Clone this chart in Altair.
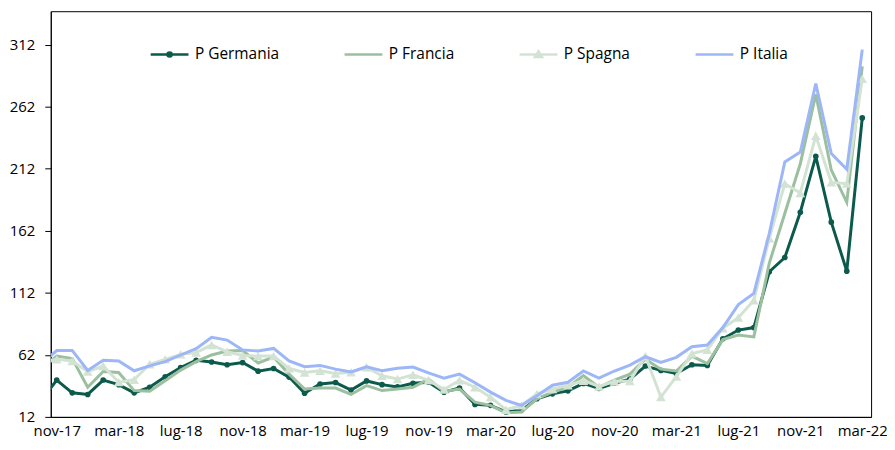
import json
import altair as alt
import pandas as pd

# ---- data -------------------------------------------------------------
months = [
    "ott-17", "nov-17", "dic-17",
    "gen-18", "feb-18", "mar-18", "apr-18", "mag-18", "giu-18", "lug-18", "ago-18", "set-18", "ott-18", "nov-18", "dic-18",
    "gen-19", "feb-19", "mar-19", "apr-19", "mag-19", "giu-19", "lug-19", "ago-19", "set-19", "ott-19", "nov-19", "dic-19",
    "gen-20", "feb-20", "mar-20", "apr-20", "mag-20", "giu-20", "lug-20", "ago-20", "set-20", "ott-20", "nov-20", "dic-20",
    "gen-21", "feb-21", "mar-21", "apr-21", "mag-21", "giu-21", "lug-21", "ago-21", "set-21", "ott-21", "nov-21", "dic-21",
    "gen-22", "feb-22", "mar-22",
]

germania = [25, 41.7, 31.4, 30.1, 41.7, 38.0, 31.4, 35.9, 44.4, 51.8, 57.6, 56.3, 54.0, 55.8, 48.9,
            51.0, 44.1, 31.1, 38.5, 39.7, 33.7, 41.0, 38.0, 36.2, 39.1, 39.9, 31.9,
            35.3, 22.1, 21.3, 16.0, 17.3, 26.6, 30.6, 33.0, 39.0, 35.0, 39.1, 42.5,
            53.0, 49.5, 47.0, 54.0, 53.5, 75.0, 82.0, 84.0, 129, 140.5, 177, 222,
            169, 129.5, 253]

francia = [50.5, 61, 59, 35.9, 48.6, 47.8, 33.2, 32.7, 41.2, 49.7, 56.6, 61.9, 65.1, 65.5, 55.5,
           60.3, 46.5, 34.5, 35.3, 35.3, 30.1, 37.2, 33.2, 34.5, 35.9, 42.5, 32.5,
           34.4, 23.9, 21.3, 15.2, 16.0, 26.6, 31.9, 35.9, 45.2, 35.9, 41.7, 46.5,
           58.5, 50.5, 49.0, 61.0, 55.0, 74.3, 78.0, 76.5, 136, 176, 216, 272,
           211, 185, 294.5]

spagna = [56, 58.4, 57.1, 48.5, 53, 40, 42, 54.4, 58.4, 62.4, 63.8, 70, 64.5, 61.5, 61,
          61, 51, 47.8, 49.2, 47.0, 48, 52, 45.2, 42.5, 46.0, 41.5, 34,
          41.5, 35.9, 27.9, 17.8, 21.3, 30.6, 34.4, 37.5, 41.2, 36.5, 40.5, 41,
          61, 28, 44.5, 63, 66, 83.5, 92, 106, 156, 200, 192.5, 238.5,
          201, 200, 284.5]

italia = [54.4, 65.5, 65.6, 49.5, 57.6, 57.0, 49.2, 53.1, 56.6, 61.9, 67, 76.2, 73.9, 66.0, 65.1,
          67.2, 57.1, 52.5, 53.5, 50.5, 48.3, 52.4, 49.2, 51.2, 52.2, 47.5, 43.3,
          46.5, 39.5, 32, 25.3, 21.3, 29, 37.5, 39.9, 49, 43.3, 49, 53.8,
          60.5, 56, 60, 68.5, 69.9, 84, 102.5, 111.5, 160, 217.5, 225.5, 280.6,
          224.3, 211.6, 308]

series_names = ["P Germania", "P Francia", "P Spagna", "P Italia"]
series_colors = ["#0b5a4b", "#9bbf9f", "#d3e3d3", "#9cb6f7"]
tick_labels = ["nov-17", "mar-18", "lug-18", "nov-18", "mar-19", "lug-19", "nov-19",
               "mar-20", "lug-20", "nov-20", "mar-21", "lug-21", "nov-21", "mar-22"]
y_ticks = [12, 62, 112, 162, 212, 262, 312]

# legend symbols: line, line+dot, line+triangle
sym_line = "M-1,0L1,0"
sym_dot = "M-1,0L1,0M0.11,0A0.11,0.11,0,1,1,-0.11,0A0.11,0.11,0,1,1,0.11,0Z"
sym_tri = "M-1,0L1,0M0,-0.17L0.19,0.14L-0.19,0.14Z"
legend_shapes = [sym_dot, sym_line, sym_tri, sym_line]

# ---- table ------------------------------------------------------------
rows = []
for name, vals in zip(series_names, [germania, francia, spagna, italia]):
    for i, (m, v) in enumerate(zip(months, vals)):
        rows.append({"idx": i - 1, "mese": m, "valore": v, "serie": name})
df = pd.DataFrame(rows)
legend_df = pd.DataFrame({"serie": series_names})
col = dict(zip(series_names, series_colors))

FONT = "Open Sans"

x_enc = alt.X(
    "idx:Q",
    scale=alt.Scale(domain=[-0.385, 52.57], nice=False, zero=False),
    axis=alt.Axis(
        values=list(range(0, 53, 4)),
        labelExpr=f"{json.dumps(tick_labels)}[round(datum.value / 4)]",
        ticks=False, grid=False, title=None, labelPadding=7, labelFlush=False,
        domainColor="black", labelFont=FONT, labelFontSize=15, labelColor="black",
    ),
)
y_enc = alt.Y(
    "valore:Q",
    scale=alt.Scale(domain=[12, 339], nice=False, zero=False),
    axis=alt.Axis(
        values=y_ticks, grid=False, title=None, tickSize=6, tickColor="black",
        labelPadding=10, domainColor="black", labelFont=FONT, labelFontSize=15,
        labelColor="black",
    ),
)


def line_layer(name):
    return alt.Chart(df).transform_filter(alt.datum.serie == name).mark_line(
        strokeWidth=3, clip=True, color=col[name]
    ).encode(x=x_enc, y=y_enc)


germ_pts = alt.Chart(df).transform_filter(
    (alt.datum.serie == "P Germania") & (alt.datum.idx >= 0)
).mark_point(filled=True, size=32, opacity=1, shape="circle", color=col["P Germania"]).encode(
    x=x_enc, y=y_enc
)
spa_pts = alt.Chart(df).transform_filter(
    (alt.datum.serie == "P Spagna") & (alt.datum.idx >= 0)
).mark_point(filled=True, size=95, opacity=1, shape="triangle-up", color=col["P Spagna"]).encode(
    x=x_enc, y=y_enc
)

leg = alt.Legend(
    title=None, orient="none", legendX=99, legendY=23, direction="horizontal",
    columns=4, symbolSize=1444, symbolStrokeWidth=2.5, labelFont=FONT,
    labelFontSize=15.5, labelColor="black", labelOffset=5, columnPadding=60,
    padding=0, rowPadding=0,
)
# legend-only layer: its marks sit outside the clipped plot area
legend_layer = alt.Chart(legend_df).mark_point(
    filled=True, opacity=1, clip=True
).encode(
    x=alt.value(-80), y=alt.value(-80),
    fill=alt.Fill("serie:N", scale=alt.Scale(domain=series_names, range=series_colors), legend=leg),
    stroke=alt.Stroke("serie:N", scale=alt.Scale(domain=series_names, range=series_colors), legend=leg),
    shape=alt.Shape("serie:N", scale=alt.Scale(domain=series_names, range=legend_shapes), legend=leg),
)

chart = alt.layer(
    line_layer("P Germania"),
    germ_pts,
    line_layer("P Francia"),
    line_layer("P Spagna"),
    spa_pts,
    line_layer("P Italia"),
    legend_layer,
).properties(
    width=825, height=408,
    padding={"left": 43, "top": 2, "right": 16, "bottom": 24},
    autosize=alt.AutoSizeParams(type="none"),
    background="white",
).configure_view(stroke="black", strokeWidth=1)

chart.save("out.html", embed_options={"renderer": "svg", "actions": False})
